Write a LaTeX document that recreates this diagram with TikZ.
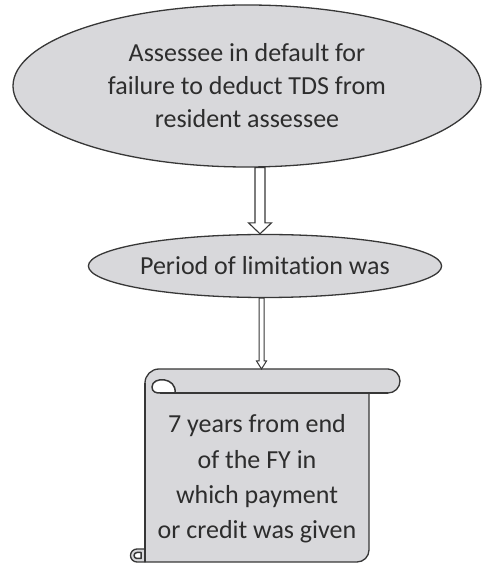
\documentclass[tikz,border=0pt]{standalone}
\usepackage{fontspec}
\setmainfont[Ligatures=NoCommon]{Carlito}
\usetikzlibrary{shapes.geometric,calc}
\definecolor{shapefill}{RGB}{216,216,219}
\definecolor{edge}{RGB}{55,55,55}
\definecolor{txt}{RGB}{45,45,45}
\tikzset{
  bubble/.style={ellipse, draw=edge, fill=shapefill, line width=1.3pt, inner sep=0pt, text=txt, align=center},
  hollow/.style={draw=edge, fill=white, line width=1.1pt, line join=miter},
  scrollpart/.style={draw=edge, fill=shapefill, line width=1.3pt, line join=round},
  curlpart/.style={draw=edge, fill=white, line width=1.5pt, line join=round},
  bigtext/.style={font=\fontsize{26}{33}\selectfont},
  scrolltext/.style={font=\fontsize{26}{35.3}\selectfont, text=txt, align=center, inner sep=0pt}
}
\begin{document}
\begin{tikzpicture}[x=1pt,y=1pt]
\useasboundingbox (0,0) rectangle (482,565);
% scroll shape
\path[scrollpart] (145,182) arc[start angle=180,end angle=90,radius=14] -- (388,196)
  arc[start angle=90,end angle=-90,radius=12] -- (369,172) -- (369,15)
  arc[start angle=0,end angle=-90,radius=12] -- (145,3) -- cycle;
\draw[edge, line width=1.3pt] (160,172) -- (388,172);
% top-left curl
\path[curlpart] (175,172) .. controls (177,188) and (152,189) .. (152,178)
  .. controls (152,173) and (156,172) .. (160,172) -- cycle;
% bottom-left curl
\path[scrollpart] (145,16) -- (137,16) arc[start angle=90,end angle=270,radius=6.5] -- (145,3) -- cycle;
\path[curlpart] (137,12.5) arc[start angle=90,end angle=270,radius=3] -- (141,6.5) -- (141,12.5) -- cycle;
\draw[edge, line width=1.3pt] (145,3) -- (145,182);
% nodes
\node[bubble, bigtext, minimum width=468pt, minimum height=162pt] (e1) at (247,479)
  {Assessee in default for\\failure to deduct TDS from\\resident assessee};
\node[bubble, bigtext, minimum width=330pt, minimum height=63pt] (e2) at (265,299)
  {Period of limitation was};
\node[scrolltext] (s) at (257,86)
  {7 years from end\\of the FY in\\which payment\\or credit was given};
\coordinate (st) at (261.5,196);
% connectors
\draw[hollow] ([xshift=8pt]e1.south) -- ([xshift=-10pt,yshift=11pt]e2.north)
  -- ([xshift=-16.5pt,yshift=11pt]e2.north) -- ([xshift=-5pt]e2.north)
  -- ([xshift=6.5pt,yshift=11pt]e2.north) -- ([yshift=11pt]e2.north)
  -- ([xshift=18pt]e1.south) -- cycle;
\draw[hollow, line width=1pt] ([xshift=-6pt]e2.south) -- ([xshift=-2.5pt,yshift=8pt]st)
  -- ([xshift=-5pt,yshift=8pt]st) -- (st) -- ([xshift=5pt,yshift=8pt]st)
  -- ([xshift=2.5pt,yshift=8pt]st) -- ([xshift=-1pt]e2.south) -- cycle;
\end{tikzpicture}
\end{document}
